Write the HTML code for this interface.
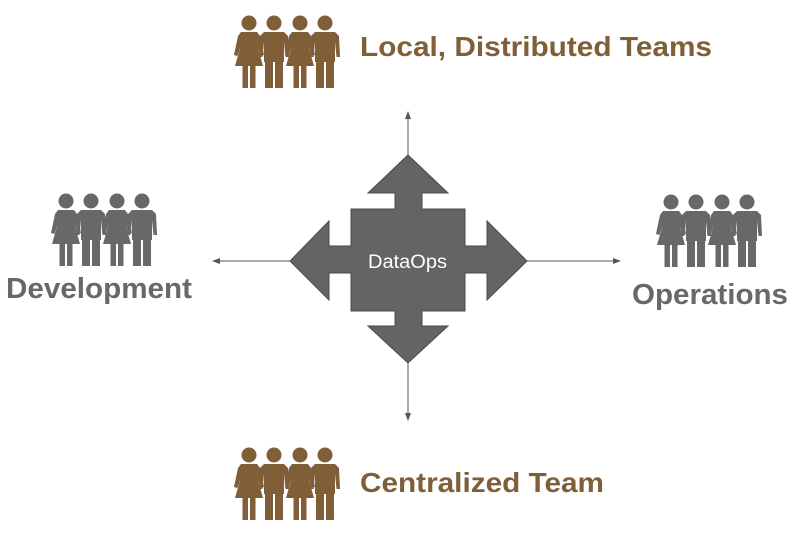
<!DOCTYPE html>
<html><head><style>
body{margin:0;width:798px;height:542px;background:#fff;overflow:hidden}
</style></head><body>
<svg width="798" height="542" viewBox="0 0 798 542" xmlns="http://www.w3.org/2000/svg" font-family="Liberation Sans, Arial, sans-serif">
<defs>
<g id="f">
<circle cx="13" cy="8" r="7.5"/>
<path d="M5 17 H21 L24 21 L28 40 L24.5 41 L21 30 L27 51 H-1 L5 30 L1.5 41 L-2 40 L2 21 Z"/>
<rect x="6.5" y="50" width="5.5" height="23"/><rect x="14" y="50" width="5.5" height="23"/>
</g>
<g id="m">
<circle cx="13" cy="8" r="7.5"/>
<path d="M3 17 H23 L27 21 L28 42 L24.5 42 L23 27 V47 H3 V27 L1.5 42 L-2 42 L-1 21 Z"/>
<rect x="4" y="44" width="8" height="29"/><rect x="14" y="44" width="8" height="29"/>
</g>
<g id="grp">
<use href="#f" x="1"/><use href="#m" x="26"/><use href="#f" x="52"/><use href="#m" x="77"/>
</g>
<marker id="ar" markerWidth="8" markerHeight="8" refX="7" refY="4" orient="auto" markerUnits="userSpaceOnUse">
<path d="M0 1 L8 4 L0 7 Z" fill="#555"/>
</marker>
</defs>
<g stroke="#555" stroke-width="1" fill="none">
<line x1="408" y1="155" x2="408" y2="112" marker-end="url(#ar)"/>
<line x1="408" y1="363" x2="408" y2="420" marker-end="url(#ar)"/>
<line x1="290" y1="261" x2="213" y2="261" marker-end="url(#ar)"/>
<line x1="527" y1="261" x2="620" y2="261" marker-end="url(#ar)"/>
</g>
<path d="M408 155 L448 193 H422 V209 H465 V246 H487 V221 L527 261 L487 300 V273 H465 V311 H422 V326 H448 L408 363 L368 326 H395 V311 H351 V273 H329 V300 L290 261 L329 221 V246 H351 V209 H395 V193 H368 Z" fill="#646464" stroke="#4a4a4a" stroke-width="1"/>
<text x="368" y="268" font-size="19" fill="#fff" textLength="79" lengthAdjust="spacingAndGlyphs">DataOps</text>
<g fill="#7f5e38"><use href="#grp" x="235" y="15"/><use href="#grp" x="235" y="447"/></g>
<g fill="#686868"><use href="#grp" x="52" y="193"/><use href="#grp" x="657" y="194"/></g>
<text x="360" y="56" font-size="28" font-weight="bold" fill="#7f5e38" textLength="352" lengthAdjust="spacingAndGlyphs">Local, Distributed Teams</text>
<text x="360" y="492" font-size="28" font-weight="bold" fill="#7f5e38" textLength="244" lengthAdjust="spacingAndGlyphs">Centralized Team</text>
<text x="6" y="298" font-size="29" font-weight="bold" fill="#686868" textLength="186" lengthAdjust="spacingAndGlyphs">Development</text>
<text x="632" y="304" font-size="29" font-weight="bold" fill="#686868" textLength="156" lengthAdjust="spacingAndGlyphs">Operations</text>
</svg>
</body></html>
